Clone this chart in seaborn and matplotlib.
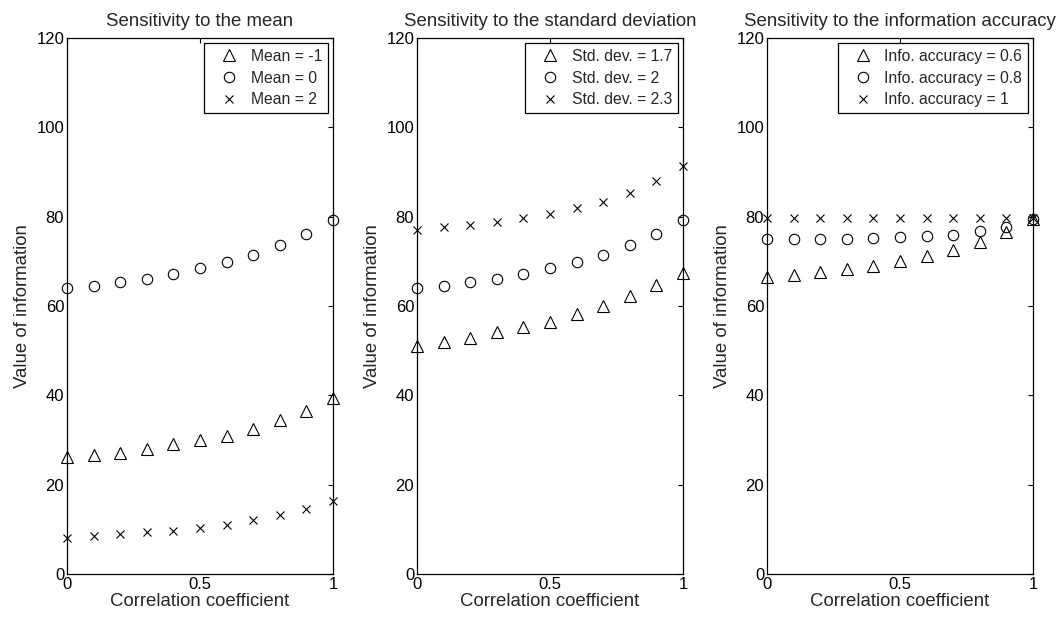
import matplotlib
matplotlib.use("Agg")
import matplotlib.pyplot as plt
import seaborn as sns
import pandas as pd

sns.set_theme(style="white")
plt.rcParams['font.family'] = ['Liberation Sans', 'DejaVu Sans']

rho = [0.0, 0.1, 0.2, 0.3, 0.4, 0.5, 0.6, 0.7, 0.8, 0.9, 1.0]

# Panel 1: sensitivity to the mean
mean_m1 = [26.3, 26.6, 27.2, 27.9, 29.0, 29.9, 31.0, 32.5, 34.4, 36.6, 39.3]
mean_0 = [64.0, 64.5, 65.3, 66.1, 67.2, 68.4, 69.8, 71.4, 73.6, 76.2, 79.3]
mean_2 = [8.1, 8.5, 8.9, 9.3, 9.7, 10.2, 11.0, 12.0, 13.1, 14.6, 16.3]

# Panel 2: sensitivity to the standard deviation
std_17 = [51.1, 51.9, 52.9, 54.1, 55.2, 56.4, 58.2, 60.0, 62.3, 64.7, 67.4]
std_20 = [64.0, 64.5, 65.3, 66.1, 67.2, 68.4, 69.8, 71.4, 73.6, 76.2, 79.3]
std_23 = [77.0, 77.6, 78.2, 78.8, 79.6, 80.7, 81.9, 83.3, 85.3, 88.0, 91.3]

# Panel 3: sensitivity to the information accuracy
acc_06 = [66.6, 67.0, 67.6, 68.3, 69.0, 70.1, 71.1, 72.6, 74.3, 76.5, 79.4]
acc_08 = [74.9, 74.9, 75.0, 75.1, 75.3, 75.4, 75.6, 76.0, 76.7, 77.6, 79.5]
acc_10 = [79.8, 79.8, 79.8, 79.8, 79.8, 79.8, 79.8, 79.8, 79.8, 79.8, 79.6]

titles = ["Sensitivity to the mean",
          "Sensitivity to the standard deviation",
          "Sensitivity to the information accuracy"]
labels = [["Mean = -1", "Mean = 0", "Mean = 2"],
          ["Std. dev. = 1.7", "Std. dev. = 2", "Std. dev. = 2.3"],
          ["Info. accuracy = 0.6", "Info. accuracy = 0.8", "Info. accuracy = 1"]]
series = [[mean_m1, mean_0, mean_2],
          [std_17, std_20, std_23],
          [acc_06, acc_08, acc_10]]
markers = ["^", "o", "x"]
msizes = [8.5, 7.5, 6]

y_ticks = [0, 20, 40, 60, 80, 100, 120]
x_ticks = [0, 0.5, 1]
x_ticklabels = ["0", "0.5", "1"]

fig = plt.figure(figsize=(10.6, 6.19), dpi=100)
lefts = [67, 417, 767]
for i in range(3):
    ax = fig.add_axes([lefts[i] / 1060, 45 / 619, 266 / 1060, 536 / 619])
    for j in range(3):
        df = pd.DataFrame({"x": rho, "y": series[i][j]})
        sns.lineplot(data=df, x="x", y="y", ax=ax, marker=markers[j],
                     linestyle="", color="black", markersize=msizes[j],
                     markerfacecolor="none", markeredgecolor="black",
                     markeredgewidth=0.8, label=labels[i][j], legend=False,
                     clip_on=False, zorder=3)
    ax.set_xlim(0, 1)
    ax.set_ylim(0, 120)
    ax.set_xticks(x_ticks)
    ax.set_xticklabels(x_ticklabels)
    ax.set_yticks(y_ticks)
    ax.tick_params(direction="in", top=True, right=True, length=3.5, width=0.8,
                   labelsize=12, pad=2, colors="black")
    for sp in ax.spines.values():
        sp.set_visible(True)
        sp.set_color("black")
        sp.set_linewidth(0.9)
    ax.set_title(titles[i], fontsize=13.4, pad=9)
    ax.set_xlabel("Correlation coefficient", fontsize=13.4, labelpad=1)
    ax.set_ylabel("Value of information", fontsize=13.4, labelpad=4)
    leg = ax.legend(loc="upper right", fontsize=11.3, frameon=True, fancybox=False,
                    framealpha=1, edgecolor="black", borderaxespad=0.3,
                    handletextpad=0.15, labelspacing=0.42, borderpad=0.4,
                    handlelength=2.4)
    leg.get_frame().set_linewidth(0.9)

fig.savefig("out.png", dpi=100)
